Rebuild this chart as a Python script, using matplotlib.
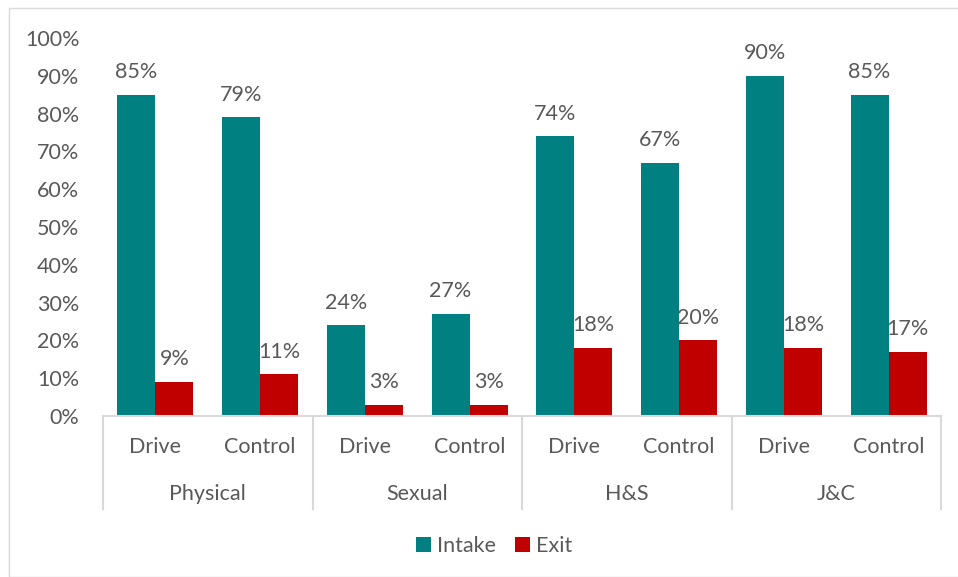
import matplotlib.pyplot as plt
from matplotlib.patches import Rectangle
import numpy as np

groups = ["Physical", "Sexual", "H&S", "J&C"]
arms = ["Drive", "Control"]
intake = [85, 79, 24, 27, 74, 67, 90, 85]
exit_ = [9, 11, 3, 3, 18, 20, 18, 17]

TEAL = "#008080"
RED = "#C00000"
GREY_TXT = "#595959"
GRID = "#D9D9D9"
FS = 15.5

plt.rcParams['font.family'] = ['Lato', 'DejaVu Sans']

W, H = 958, 577
fig = plt.figure(figsize=(W / 100, H / 100), dpi=100)
fig.patches.append(Rectangle((9 / W, 0), 1, 1 - 8 / H, transform=fig.transFigure,
                             fill=False, edgecolor=GRID, lw=1))

ax = fig.add_axes([103 / W, 1 - 416 / H, (941 - 103) / W, (416 - 38) / H])
x = np.arange(len(intake))
bw = 0.363
b1 = ax.bar(x - bw / 2, intake, bw, color=TEAL, label="Intake")
b2 = ax.bar(x + bw / 2, exit_, bw, color=RED, label="Exit")

for bars, vals in ((b1, intake), (b2, exit_)):
    for r, v in zip(bars, vals):
        ax.annotate(f"{v}%", (r.get_x() + r.get_width() / 2, v), xytext=(0, 9),
                    textcoords="offset points", ha="center", va="bottom",
                    fontsize=FS, color=GREY_TXT)

ax.set_xlim(-0.5, len(intake) - 0.5)
ax.set_ylim(0, 100)
ax.set_yticks(range(0, 101, 10))
ax.set_yticklabels([f"{t}%" for t in range(0, 101, 10)])
ax.tick_params(axis="y", length=0, labelsize=FS, labelcolor=GREY_TXT, pad=17)
ax.set_xticks([])
for s in ["top", "right", "left"]:
    ax.spines[s].set_visible(False)
ax.spines["bottom"].set_color(GRID)
ax.spines["bottom"].set_linewidth(1.5)

# two-level category axis
trans = ax.get_xaxis_transform()
ph = (416 - 38)
for b in np.arange(-0.5, len(intake), 2):
    ax.plot([b, b], [0, -(509 - 416) / ph], transform=trans, color=GRID,
            lw=1.5, clip_on=False)
for i in range(len(intake)):
    ax.text(i, -(447 - 416) / ph, arms[i % 2], transform=trans, ha="center",
            va="center", fontsize=FS, color=GREY_TXT)
for g, name in enumerate(groups):
    ax.text(2 * g + 0.5, -(494 - 416) / ph, name, transform=trans, ha="center",
            va="center", fontsize=FS, color=GREY_TXT)

fig.legend(loc="center", bbox_to_anchor=(494 / W, 1 - 546 / H), ncol=2,
           frameon=False, fontsize=FS, labelcolor=GREY_TXT, handlelength=0.7,
           handleheight=0.7, handletextpad=0.3, columnspacing=0.85)

fig.savefig("out.png", dpi=100)
